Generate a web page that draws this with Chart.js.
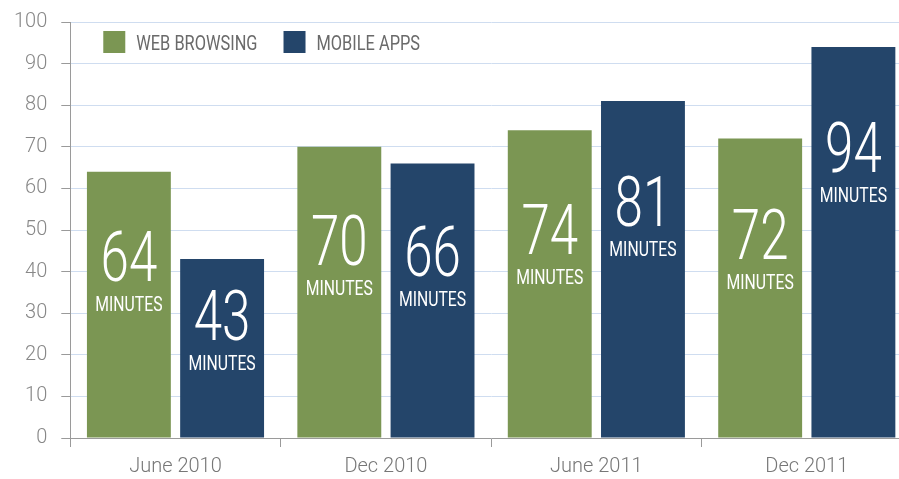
<!DOCTYPE html>
<html>
<head>
<meta charset="utf-8">
<script src="https://cdn.jsdelivr.net/npm/chart.js@4"></script>
<style>
  html, body { margin: 0; padding: 0; background: #fff; overflow: hidden; }
  #wrap { position: relative; width: 915px; height: 479px; }
</style>
</head>
<body>
<div id="wrap"><canvas id="minutes-chart"></canvas></div>
<script>
// values
const periods = ['June 2010', 'Dec 2010', 'June 2011', 'Dec 2011']
const webBrowsing = [64, 70, 74, 72]
const mobileApps = [43, 66, 81, 94]
const yTicks = [0, 10, 20, 30, 40, 50, 60, 70, 80, 90, 100]

const FONT = "Roboto, 'Liberation Sans', sans-serif"
const GREEN = '#7b9653'
const BLUE = '#24456a'

// draw text squeezed sideways, the original uses a condensed face
function narrowText(ctx, text, x, y, sx) {
  ctx.save()
  ctx.translate(x, y)
  ctx.scale(sx, 1)
  ctx.fillText(text, 0, 0)
  ctx.restore()
}

// legend drawn inside the plot, top left
const insideLegend = {
  id: 'insideLegend',
  afterDraw(chart) {
    const ctx = chart.ctx
    const area = chart.chartArea
    let x = area.left + 33
    const y = area.top + 9
    ctx.save()
    ctx.font = '400 21px ' + FONT
    ctx.textBaseline = 'alphabetic'
    ctx.textAlign = 'left'
    chart.data.datasets.forEach((ds) => {
      const txt = ds.label.toUpperCase()
      ctx.fillStyle = ds.backgroundColor
      ctx.fillRect(x, y, 22, 22)
      ctx.fillStyle = '#6a6a6a'
      narrowText(ctx, txt, x + 33, y + 19, 0.78)
      x += 33 + ctx.measureText(txt).width * 0.78 + 26
    })
    ctx.restore()
  },
}

// big white value + MINUTES inside each bar
const barLabels = {
  id: 'barLabels',
  afterDatasetsDraw(chart) {
    const ctx = chart.ctx
    ctx.save()
    ctx.fillStyle = '#fff'
    ctx.textAlign = 'center'
    ctx.textBaseline = 'alphabetic'
    chart.data.datasets.forEach((ds, di) => {
      chart.getDatasetMeta(di).data.forEach((bar, i) => {
        const h = bar.base - bar.y
        const top = bar.y + Math.min(75, 0.33 * h - 28)
        ctx.font = '300 71px ' + FONT
        narrowText(ctx, String(ds.data[i]), bar.x, top + 50, 0.72)
        ctx.font = '400 21px ' + FONT
        narrowText(ctx, 'MINUTES', bar.x, top + 80, 0.75)
      })
    })
    ctx.restore()
  },
}

const chartConfig = {
  type: 'bar',
  data: {
    labels: periods,
    datasets: [
      {
        label: 'Web Browsing',
        data: webBrowsing,
        backgroundColor: GREEN,
        categoryPercentage: 0.886,
        barPercentage: 0.9,
      },
      {
        label: 'Mobile Apps',
        data: mobileApps,
        backgroundColor: BLUE,
        categoryPercentage: 0.886,
        barPercentage: 0.9,
      },
    ],
  },
  options: {
    responsive: true,
    maintainAspectRatio: false,
    animation: false,
    layout: { autoPadding: false, padding: { top: 18, left: 0, right: 3, bottom: -8 } },
    plugins: {
      legend: { display: false },
      tooltip: { enabled: false },
    },
    scales: {
      x: {
        grid: {
          offset: true,
          drawOnChartArea: false,
          tickLength: 9,
          tickColor: '#9a9a9a',
        },
        border: { color: '#9a9a9a' },
        ticks: {
          color: '#777',
          font: { family: FONT, size: 20, weight: 300 },
          padding: 8,
        },
      },
      y: {
        min: 0,
        max: 100,
        afterBuildTicks(scale) {
          scale.ticks = yTicks.map((v) => ({ value: v }))
        },
        grid: {
          color: '#cfddf0',
          tickColor: '#9a9a9a',
          tickLength: 9,
        },
        border: { color: '#9a9a9a' },
        ticks: {
          color: '#888',
          font: { family: FONT, size: 20, weight: 300, lineHeight: 0.8 },
          padding: 14,
        },
      },
    },
  },
  plugins: [barLabels, insideLegend],
}

const canvas = document.getElementById('minutes-chart')
window.myBar = new Chart(canvas, chartConfig)
</script>
</body>
</html>
